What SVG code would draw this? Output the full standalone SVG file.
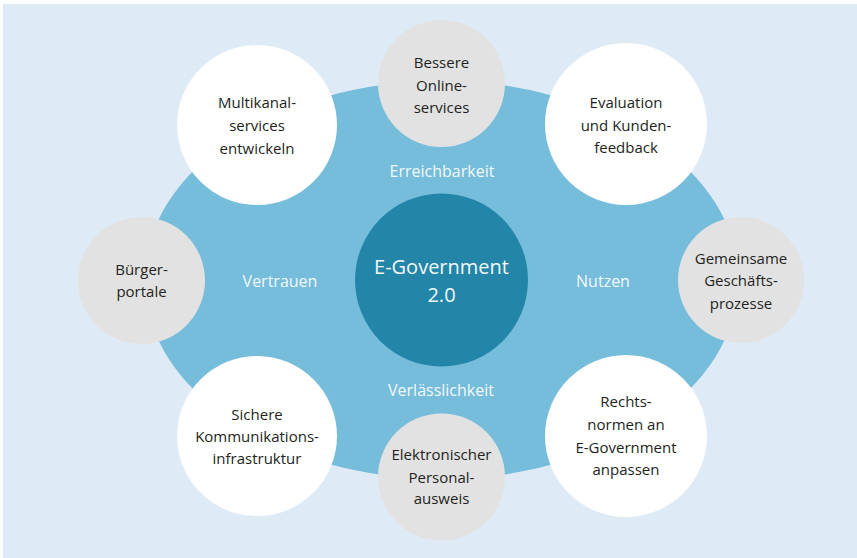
<svg xmlns="http://www.w3.org/2000/svg" width="857" height="558" viewBox="0 0 857 558">
<style>
.t{font-family:"Open Sans","Noto Sans","Liberation Sans",sans-serif;font-size:15px;fill:#231f20;text-anchor:middle}
.l{font-family:"Open Sans","Noto Sans","Liberation Sans",sans-serif;font-size:16px;fill:#f2f9fc;text-anchor:middle}
.c{font-family:"Open Sans","Noto Sans","Liberation Sans",sans-serif;font-size:20px;fill:#f2f9fc;text-anchor:middle}
.w{fill:#ffffff}
.g{fill:#e2e2e2}
</style>
<rect x="3" y="4" width="854" height="554" fill="#deebf6"/>
<g id="ring">
<ellipse cx="441.5" cy="280" rx="297" ry="199" fill="#76bcdb"/>
<text class="l" x="442" y="177">Erreichbarkeit</text>
<text class="l" x="280" y="287">Vertrauen</text>
<text class="l" x="603" y="287">Nutzen</text>
<text class="l" x="441" y="396">Verlässlichkeit</text>
</g>
<g id="connectors"></g>
<g id="center">
<circle cx="441.5" cy="280" r="86.5" fill="#2385a8"/>
<text class="c" x="441.5" y="274">E-Government</text>
<text class="c" x="441.5" y="302">2.0</text>
</g>
<g id="multikanal">
<circle class="w" cx="257" cy="125" r="80"/>
<text class="t" x="257" y="108">Multikanal-</text>
<text class="t" x="257" y="131">services</text>
<text class="t" x="257" y="154">entwickeln</text>
</g>
<g id="bessere">
<circle class="g" cx="441.5" cy="83.5" r="63.5"/>
<text class="t" x="441.5" y="68">Bessere</text>
<text class="t" x="441.5" y="91">Online-</text>
<text class="t" x="441.5" y="113">services</text>
</g>
<g id="evaluation">
<circle class="w" cx="626" cy="124" r="81"/>
<text class="t" x="626" y="108">Evaluation</text>
<text class="t" x="626" y="131">und Kunden-</text>
<text class="t" x="626" y="153">feedback</text>
</g>
<g id="buerger">
<circle class="g" cx="141.5" cy="280.5" r="63.5"/>
<text class="t" x="141.5" y="275">Bürger-</text>
<text class="t" x="141.5" y="297">portale</text>
</g>
<g id="gemeinsame">
<circle class="g" cx="741" cy="280" r="63"/>
<text class="t" x="741" y="264">Gemeinsame</text>
<text class="t" x="741" y="286">Geschäfts-</text>
<text class="t" x="741" y="309">prozesse</text>
</g>
<g id="sichere">
<circle class="w" cx="257" cy="436" r="80"/>
<text class="t" x="257" y="420">Sichere</text>
<text class="t" x="257" y="442">Kommunikations-</text>
<text class="t" x="257" y="464">infrastruktur</text>
</g>
<g id="elektronisch">
<circle class="g" cx="441.5" cy="477" r="63.5"/>
<text class="t" x="441.5" y="460">Elektronischer</text>
<text class="t" x="441.5" y="483">Personal-</text>
<text class="t" x="441.5" y="504">ausweis</text>
</g>
<g id="rechts">
<circle class="w" cx="626" cy="436" r="81"/>
<text class="t" x="626" y="407">Rechts-</text>
<text class="t" x="626" y="430">normen an</text>
<text class="t" x="626" y="453">E-Government</text>
<text class="t" x="626" y="475">anpassen</text>
</g>
</svg>
